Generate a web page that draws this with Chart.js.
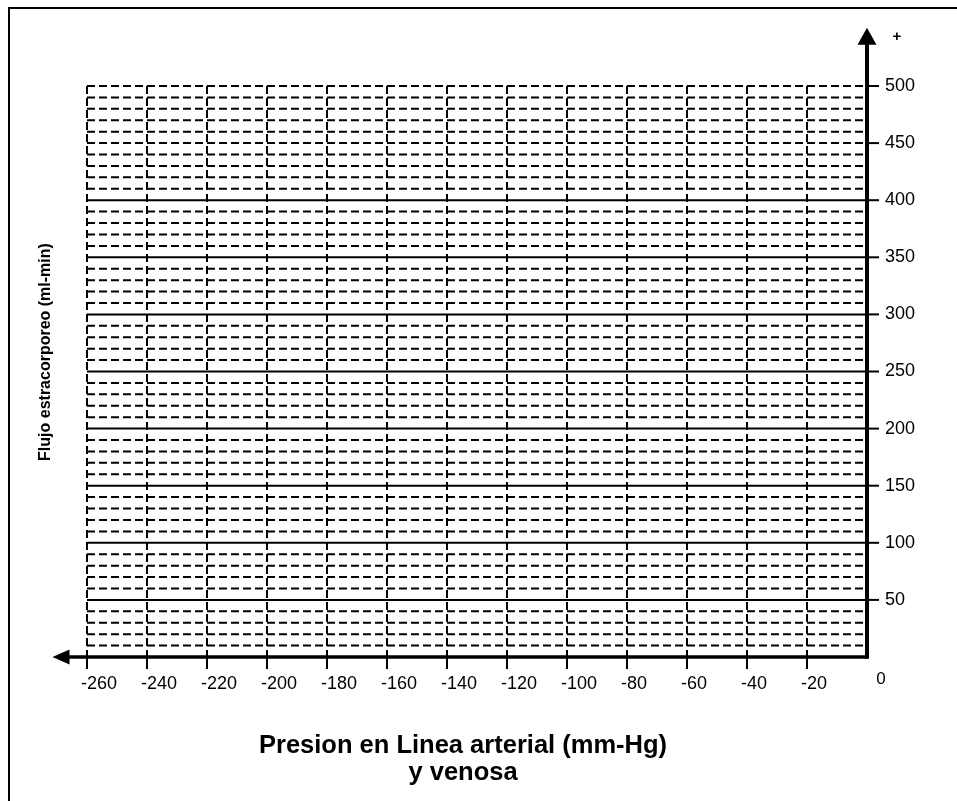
<!DOCTYPE html>
<html>
<head>
<meta charset="utf-8">
<script src="https://cdn.jsdelivr.net/npm/chart.js@4/dist/chart.umd.min.js"></script>
<style>
html,body{margin:0;padding:0;background:#fff;}
#wrap{position:relative;width:957px;height:801px;}
canvas{display:block;}
</style>
</head>
<body>
<div id="wrap"><canvas id="c" width="957" height="801"></canvas></div>
<script>
// ---- data ----
const xTickLabels = [-260, -240, -220, -200, -180, -160, -140, -120, -100, -80, -60, -40, -20];
const yTickLabels = [50, 100, 150, 200, 250, 300, 350, 400, 450, 500];
const yGridLines = [10, 20, 30, 40, 50, 60, 70, 80, 90, 100, 110, 120, 130, 140, 150, 160, 170, 180, 190, 200,
  210, 220, 230, 240, 250, 260, 270, 280, 290, 300, 310, 320, 330, 340, 350, 360, 370, 380, 390, 400,
  410, 420, 430, 440, 450, 460, 470, 480, 490, 500];
const ySolidLines = [50, 100, 150, 200, 250, 300, 350, 400];
const xRange = [-260, 0];
const yRange = [0, 500];
const xTitleLines = ["Presion en Linea arterial (mm-Hg)", "y venosa"];
const yTitle = "Flujo estracorporeo (ml-min)";
const originLabel = "0";
const plusLabel = "+";

const FONT = "'Liberation Sans', Arial, sans-serif";

const gridPlugin = {
  id: 'gridPlugin',
  afterDraw(chart) {
    const ctx = chart.ctx;
    const xs = chart.scales.x, ys = chart.scales.y;
    const X = v => xs.getPixelForValue(v);
    const Y = v => ys.getPixelForValue(v);
    ctx.save();
    ctx.strokeStyle = '#000';
    ctx.fillStyle = '#000';

    // horizontal grid lines
    ctx.lineWidth = 2;
    yGridLines.forEach(v => {
      const solid = ySolidLines.includes(v);
      ctx.setLineDash(solid ? [] : [8, 4]);
      ctx.beginPath();
      ctx.moveTo(X(xRange[0]), Y(v));
      ctx.lineTo(X(xRange[1]), Y(v));
      ctx.stroke();
    });
    // vertical grid lines
    ctx.setLineDash([8, 4]);
    xTickLabels.forEach(v => {
      ctx.beginPath();
      ctx.moveTo(X(v), Y(yRange[1]));
      ctx.lineTo(X(v), Y(yRange[0]));
      ctx.stroke();
    });
    ctx.setLineDash([]);

    // x axis with arrow to the left
    const x0 = X(0), y0 = Y(0);
    const xTip = X(-271.5);
    ctx.lineWidth = 3.5;
    ctx.beginPath();
    ctx.moveTo(x0 + 1.5, y0);
    ctx.lineTo(xTip + 6, y0);
    ctx.stroke();
    ctx.beginPath();
    ctx.moveTo(xTip, y0);
    ctx.lineTo(xTip + 17, y0 - 7.5);
    ctx.lineTo(xTip + 17, y0 + 7.5);
    ctx.closePath();
    ctx.fill();

    // y axis with arrow to the top
    const yTip = Y(551);
    ctx.lineWidth = 4;
    ctx.beginPath();
    ctx.moveTo(x0, y0 + 1.5);
    ctx.lineTo(x0, yTip + 6);
    ctx.stroke();
    ctx.beginPath();
    ctx.moveTo(x0, yTip);
    ctx.lineTo(x0 - 9.5, yTip + 17);
    ctx.lineTo(x0 + 9.5, yTip + 17);
    ctx.closePath();
    ctx.fill();

    // x ticks & labels
    ctx.lineWidth = 2;
    ctx.font = '18px ' + FONT;
    ctx.textBaseline = 'middle';
    ctx.textAlign = 'left';
    xTickLabels.forEach(v => {
      ctx.beginPath();
      ctx.moveTo(X(v), y0);
      ctx.lineTo(X(v), y0 + 12);
      ctx.stroke();
      ctx.fillText(String(v), X(v) - 6, y0 + 27);
    });
    // y ticks & labels
    yTickLabels.forEach(v => {
      ctx.beginPath();
      ctx.moveTo(x0, Y(v));
      ctx.lineTo(x0 + 12, Y(v));
      ctx.stroke();
      ctx.fillText(String(v), x0 + 18, Y(v));
    });
    // origin label and plus
    ctx.font = '17px ' + FONT;
    ctx.textAlign = 'center';
    ctx.fillText(originLabel, x0 + 14, y0 + 22);
    ctx.font = 'bold 15px ' + FONT;
    ctx.fillText(plusLabel, x0 + 30, 37);

    // x title
    ctx.font = 'bold 25.5px ' + FONT;
    ctx.textAlign = 'center';
    ctx.fillText(xTitleLines[0], 463, 746);
    ctx.fillText(xTitleLines[1], 463, 773);

    // y title
    ctx.save();
    ctx.translate(46, 352);
    ctx.rotate(-Math.PI / 2);
    ctx.font = 'bold 16px ' + FONT;
    ctx.fillText(yTitle, 0, 0);
    ctx.restore();

    // frame
    ctx.lineWidth = 2;
    ctx.beginPath();
    ctx.moveTo(9, 801);
    ctx.lineTo(9, 8);
    ctx.lineTo(957, 8);
    ctx.stroke();
    ctx.restore();
  }
};

new Chart(document.getElementById('c'), {
  type: 'scatter',
  data: { datasets: [{ data: [], pointRadius: 0 }] },
  options: {
    responsive: false,
    animation: false,
    layout: { padding: { left: 87, right: 90, top: 86, bottom: 144 } },
    plugins: { legend: { display: false }, tooltip: { enabled: false } },
    scales: {
      x: { type: 'linear', min: xRange[0], max: xRange[1], display: false },
      y: { type: 'linear', min: yRange[0], max: yRange[1], display: false }
    }
  },
  plugins: [gridPlugin]
});
</script>
</body>
</html>
